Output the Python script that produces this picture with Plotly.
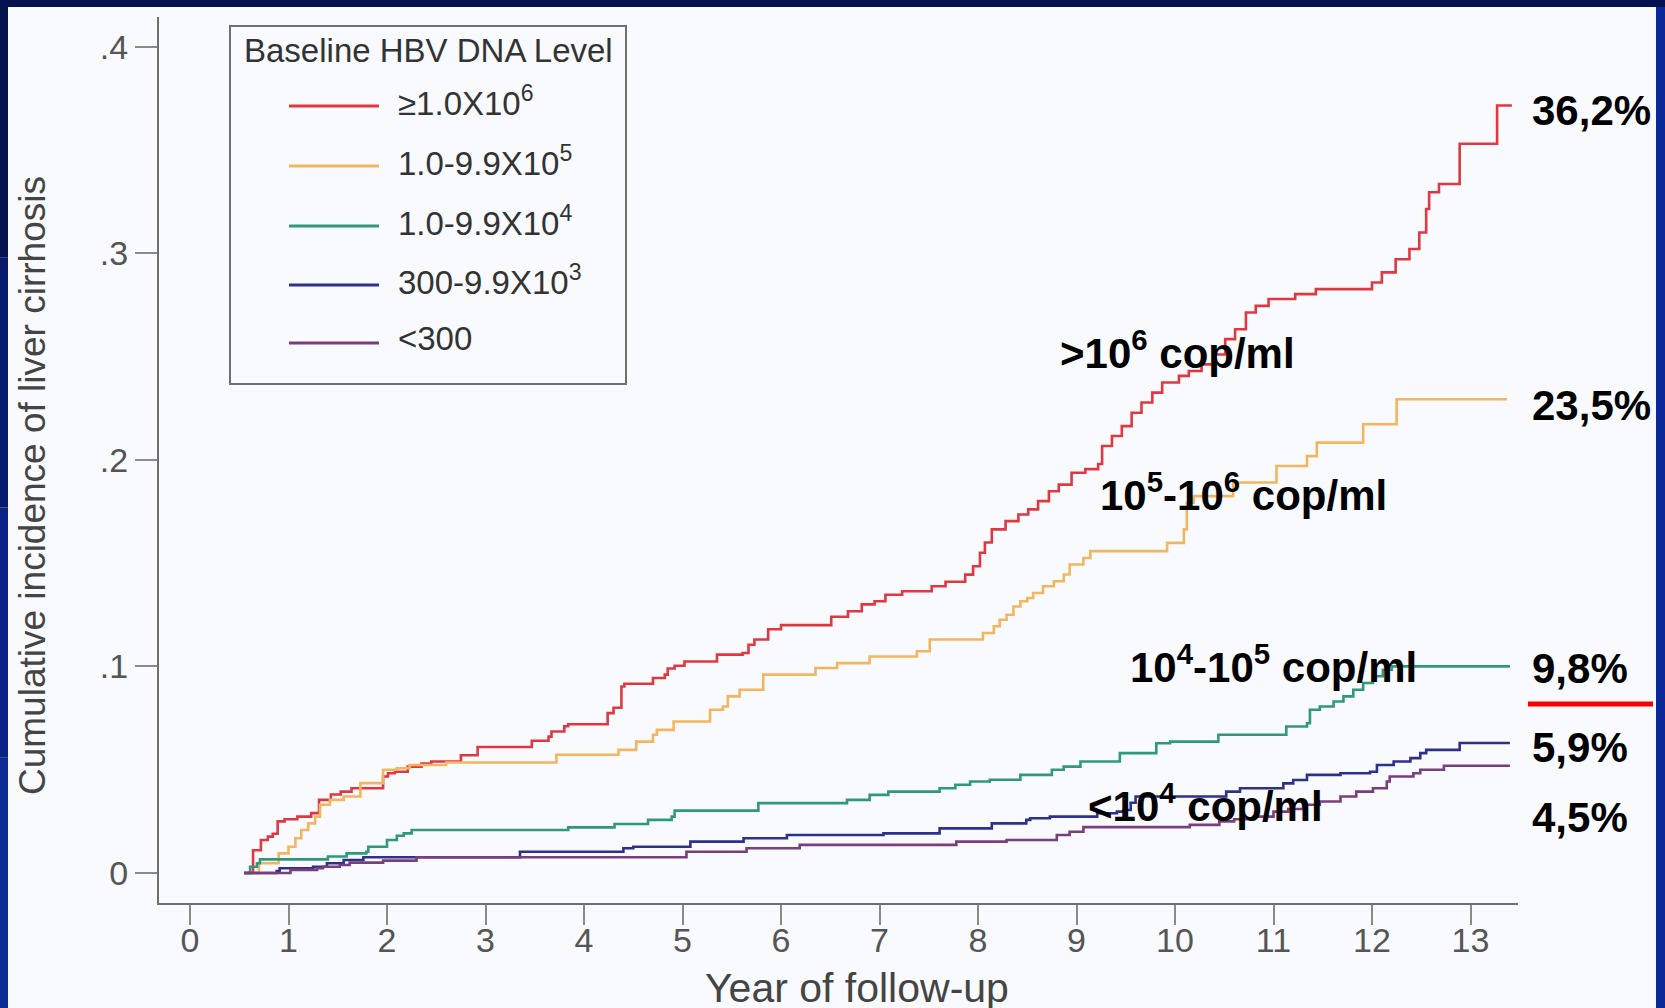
import plotly.graph_objects as go

# ---------------- data ----------------
years_ticks = list(range(0, 14))
y_tick_vals = [0, 0.1, 0.2, 0.3, 0.4]
y_tick_text = ["0", ".1", ".2", ".3", ".4"]

series_names = ["≥1.0X10<sup>6</sup>", "1.0-9.9X10<sup>5</sup>", "1.0-9.9X10<sup>4</sup>",
                "300-9.9X10<sup>3</sup>", "<300"]
series_colors = ["#e03842", "#f2b660", "#2f9a7b", "#2d318c", "#7a3e7c"]

red_t = [0.55, 0.64, 0.72, 0.79, 0.84, 0.89, 0.96, 1.09, 1.23, 1.31, 1.43, 1.53, 1.64, 1.96, 2.01,
         2.08, 2.21, 2.35, 2.45, 2.75, 2.92, 3.47, 3.64, 3.67, 3.80, 3.84, 4.24, 4.30, 4.38, 4.41,
         4.70, 4.82, 4.85, 4.92, 5.02, 5.35, 5.61, 5.67, 5.73, 5.87, 6.00, 6.51, 6.68, 6.82, 6.95,
         7.06, 7.23, 7.53, 7.67, 7.87, 7.95, 8.02, 8.07, 8.14, 8.28, 8.41, 8.51, 8.61, 8.72, 8.82,
         8.95, 9.09, 9.22, 9.26, 9.36, 9.46, 9.56, 9.66, 9.77, 9.87, 10.04, 10.14, 10.27, 10.41,
         10.51, 10.61, 10.72, 10.82, 10.95, 11.22, 11.43, 12.00, 12.10, 12.24, 12.38, 12.48, 12.55,
         12.58, 12.68, 12.89, 13.27, 13.42]
red_v = [0.0, 0.011, 0.016, 0.0176, 0.019, 0.025, 0.026, 0.0273, 0.029, 0.0354, 0.038, 0.0394,
         0.041, 0.0467, 0.0483, 0.049, 0.0515, 0.053, 0.054, 0.057, 0.061, 0.064, 0.066, 0.0685,
         0.071, 0.072, 0.0774, 0.080, 0.0903, 0.0916, 0.0944, 0.096, 0.099, 0.1003, 0.1024, 0.1057,
         0.1065, 0.1105, 0.113, 0.118, 0.120, 0.124, 0.1267, 0.130, 0.1315, 0.1347, 0.1364, 0.1388,
         0.141, 0.1444, 0.1485, 0.155, 0.160, 0.1663, 0.1703, 0.1735, 0.176, 0.180, 0.1848, 0.188,
         0.1937, 0.1955, 0.198, 0.2067, 0.2115, 0.2163, 0.2228, 0.2277, 0.2325, 0.2374, 0.2406,
         0.243, 0.2462, 0.251, 0.2584, 0.2632, 0.2713, 0.2745, 0.2778, 0.2802, 0.2826, 0.2858,
         0.2907, 0.2971, 0.302, 0.310, 0.3214, 0.3295, 0.3335, 0.353, 0.3715, 0.3715]

orange_t = [0.55, 0.70, 0.90, 1.00, 1.07, 1.13, 1.20, 1.27, 1.32, 1.42, 1.56, 1.73, 1.96, 2.10,
            2.23, 2.60, 3.72, 4.35, 4.53, 4.70, 4.74, 4.91, 5.28, 5.41, 5.46, 5.58, 5.82, 6.35,
            6.57, 6.90, 7.38, 7.51, 8.05, 8.16, 8.22, 8.29, 8.36, 8.43, 8.50, 8.56, 8.66, 8.77,
            8.87, 8.93, 9.07, 9.14, 9.92, 10.09, 10.12, 10.19, 10.59, 11.03, 11.34, 11.44, 11.91,
            12.25, 13.37]
orange_v = [0.0, 0.0047, 0.0095, 0.0127, 0.0168, 0.0208, 0.024, 0.0273, 0.033, 0.0354, 0.037,
            0.0435, 0.050, 0.0507, 0.0523, 0.0535, 0.0572, 0.0596, 0.0636, 0.0669, 0.0693, 0.0733,
            0.079, 0.0806, 0.0855, 0.0887, 0.096, 0.0992, 0.1016, 0.1048, 0.1073, 0.113, 0.1162,
            0.1194, 0.1226, 0.125, 0.129, 0.1315, 0.1331, 0.1355, 0.1388, 0.1412, 0.1445, 0.1493,
            0.1525, 0.1558, 0.1598, 0.1663, 0.1792, 0.1824, 0.189, 0.197, 0.2018, 0.2083, 0.2172,
            0.2293, 0.2293]

green_t = [0.55, 0.61, 0.68, 0.71, 1.40, 1.59, 1.79, 1.81, 2.00, 2.10, 2.17, 2.25, 3.84, 4.31,
           4.65, 4.89, 4.92, 5.77, 6.67, 6.90, 7.09, 7.61, 7.77, 7.92, 8.12, 8.43, 8.75, 8.87,
           9.04, 9.44, 9.81, 9.95, 10.44, 11.13, 11.34, 11.37, 11.47, 11.61, 11.71, 11.81, 11.91,
           12.01, 12.11, 12.20, 13.40]
green_v = [0.0, 0.003, 0.0047, 0.0066, 0.008, 0.0095, 0.0103, 0.0127, 0.016, 0.018, 0.0192,
           0.0208, 0.0221, 0.0237, 0.0257, 0.0273, 0.0302, 0.0338, 0.0354, 0.0378, 0.0394, 0.041,
           0.0427, 0.0443, 0.0451, 0.0475, 0.050, 0.0515, 0.054, 0.058, 0.0628, 0.0636, 0.0669,
           0.0709, 0.0725, 0.079, 0.0806, 0.083, 0.0855, 0.0887, 0.092, 0.0952, 0.0984, 0.100,
           0.100]

blue_t = [0.55, 0.88, 0.91, 1.25, 1.39, 1.56, 1.76, 3.35, 4.40, 4.50, 5.08, 5.62, 6.06, 7.04,
          7.61, 8.14, 8.49, 8.53, 8.73, 9.21, 9.41, 9.48, 9.55, 9.60, 10.52, 10.66, 11.10, 11.20,
          11.34, 11.68, 11.98, 12.05, 12.22, 12.39, 12.49, 12.55, 12.89, 13.40]
blue_v = [0.0, 0.001, 0.0023, 0.003, 0.0047, 0.0063, 0.0076, 0.0103, 0.012, 0.0127, 0.0152,
          0.0168, 0.0184, 0.0192, 0.0216, 0.024, 0.0257, 0.0265, 0.0273, 0.0289, 0.0297, 0.0305,
          0.034, 0.037, 0.0394, 0.041, 0.0434, 0.045, 0.0475, 0.0483, 0.049, 0.0523, 0.054,
          0.0556, 0.058, 0.0596, 0.0629, 0.0629]

purple_t = [0.55, 1.02, 1.29, 1.35, 1.52, 1.62, 1.96, 2.30, 5.04, 5.65, 6.19, 7.78, 8.29, 8.80,
            8.93, 9.07, 10.15, 10.45, 10.60, 10.80, 11.00, 11.15, 11.30, 11.47, 11.68, 11.84,
            12.01, 12.15, 12.18, 12.42, 12.49, 12.73, 13.40]
purple_v = [0.0, 0.0015, 0.0023, 0.003, 0.0039, 0.005, 0.006, 0.0076, 0.0103, 0.012, 0.0136,
            0.0152, 0.016, 0.0184, 0.020, 0.0222, 0.0233, 0.025, 0.026, 0.0273, 0.0297, 0.031,
            0.033, 0.0346, 0.037, 0.0394, 0.041, 0.0443, 0.0467, 0.0483, 0.050, 0.0519, 0.0519]

series_t = [red_t, orange_t, green_t, blue_t, purple_t]
series_v = [red_v, orange_v, green_v, blue_v, purple_v]

end_labels = ["36,2%", "23,5%", "9,8%", "5,9%", "4,5%"]
curve_labels = [">10<sup>6</sup> cop/ml", "10<sup>5</sup>-10<sup>6</sup> cop/ml",
                "10<sup>4</sup>-10<sup>5</sup> cop/ml", "<10<sup>4</sup> cop/ml"]

x_title = "Year of follow-up"
y_title = "Cumulative incidence of liver cirrhosis"
legend_title = "Baseline HBV DNA Level"

# ---------------- layout geometry (pixels) ----------------
W, H = 1665, 1008
L, R, T, B = 159, 1518, 17, 903
X0PX, XSTEP = 190.0, 98.5       # pixel of year 0, pixels per year
Y0PX, YSCALE = 873.0, 2066.0    # pixel of 0, pixels per unit
x_range = [(L - X0PX) / XSTEP, (R - X0PX) / XSTEP]
y_range = [(Y0PX - B) / YSCALE, (Y0PX - T) / YSCALE]


def PX(p):
    return (p - L) / (R - L)


def PY(p):
    return (B - p) / (B - T)


FONT = "Arial, Liberation Sans, sans-serif"

fig = go.Figure()
for name, t, v, c in zip(series_names, series_t, series_v, series_colors):
    fig.add_trace(go.Scatter(x=t, y=v, mode="lines", line=dict(color=c, width=2.6, shape="hv"),
                             name=name, showlegend=False, hoverinfo="skip"))

shapes = []
annotations = []

# slide frame (navy strips)
shapes.append(dict(type="rect", xref="paper", yref="paper", x0=PX(0), x1=PX(W), y0=PY(0), y1=PY(7),
                   fillcolor="#03124f", line_width=0, layer="above"))
strip_cols = ["#04124f", "#071a6e", "#0a2384", "#0c2a94"]
for i, col in enumerate(strip_cols):
    y_a = 7 + i * (H - 7) / 4
    y_b = 7 + (i + 1) * (H - 7) / 4
    shapes.append(dict(type="rect", xref="paper", yref="paper", x0=PX(0), x1=PX(8), y0=PY(y_a), y1=PY(y_b),
                       fillcolor=col, line_width=0, layer="above"))
shapes.append(dict(type="rect", xref="paper", yref="paper", x0=PX(1656), x1=PX(W), y0=PY(7), y1=PY(H),
                   fillcolor="#0b2898", line_width=0, layer="above"))

# legend box
shapes.append(dict(type="rect", xref="paper", yref="paper", x0=PX(230), x1=PX(626), y0=PY(26), y1=PY(384),
                   line=dict(color="#707070", width=2), fillcolor="rgba(0,0,0,0)"))
annotations.append(dict(xref="paper", yref="paper", x=PX(428), y=PY(51), text=legend_title,
                        showarrow=False, xanchor="center", yanchor="middle",
                        font=dict(family=FONT, size=33, color="#333333")))
leg_y = [106, 166, 226, 285, 343]
for name, col, ly in zip(series_names, series_colors, leg_y):
    shapes.append(dict(type="line", xref="paper", yref="paper", x0=PX(289), x1=PX(379), y0=PY(ly), y1=PY(ly),
                       line=dict(color=col, width=3)))
    annotations.append(dict(xref="paper", yref="paper", x=PX(396), y=PY(ly - 5), text=name,
                            showarrow=False, xanchor="left", yanchor="middle",
                            font=dict(family=FONT, size=33, color="#333333")))

# end percentages
end_y = [111, 405, 668, 747, 817]
for txt, ey in zip(end_labels, end_y):
    annotations.append(dict(xref="paper", yref="paper", x=PX(1530), y=PY(ey), text="<b>" + txt + "</b>",
                            showarrow=False, xanchor="left", yanchor="middle",
                            font=dict(family=FONT, size=42, color="#000000")))
shapes.append(dict(type="line", xref="paper", yref="paper", x0=PX(1528), x1=PX(1653), y0=PY(704), y1=PY(704),
                   line=dict(color="#ff0000", width=5), layer="above"))

# curve labels
lab_pos = [(1058, 350), (1098, 492), (1128, 664), (1086, 803)]
for txt, (lx, ly) in zip(curve_labels, lab_pos):
    annotations.append(dict(xref="paper", yref="paper", x=PX(lx), y=PY(ly), text="<b>" + txt + "</b>",
                            showarrow=False, xanchor="left", yanchor="middle",
                            font=dict(family=FONT, size=42, color="#000000")))

# axis titles
annotations.append(dict(xref="paper", yref="paper", x=PX(857), y=PY(988), text=x_title, showarrow=False,
                        xanchor="center", yanchor="middle", font=dict(family=FONT, size=41, color="#444444")))
annotations.append(dict(xref="paper", yref="paper", x=PX(32), y=PY(486), text=y_title, showarrow=False,
                        textangle=-90, xanchor="center", yanchor="middle",
                        font=dict(family=FONT, size=37, color="#444444")))

fig.update_layout(
    width=W, height=H,
    margin=dict(l=L, r=W - R, t=T, b=H - B, pad=0),
    paper_bgcolor="#f8fafd", plot_bgcolor="#f8fafd",
    shapes=shapes, annotations=annotations, showlegend=False,
    xaxis=dict(range=x_range, tickvals=years_ticks, ticks="outside", ticklen=20, tickwidth=1.5,
               tickcolor="#8a8a8a", showline=True, linecolor="#6f6f6f", linewidth=2, showgrid=False,
               zeroline=False, automargin=False, ticklabelstandoff=-14,
               tickfont=dict(family=FONT, size=34, color="#555555")),
    yaxis=dict(range=y_range, tickvals=y_tick_vals, ticktext=y_tick_text, ticks="outside", ticklen=22,
               tickwidth=1.5, tickcolor="#8a8a8a", showline=True, linecolor="#6f6f6f", linewidth=2,
               showgrid=False, zeroline=False, automargin=False,
               tickfont=dict(family=FONT, size=34, color="#555555")),
)

fig.write_html("out.html")
